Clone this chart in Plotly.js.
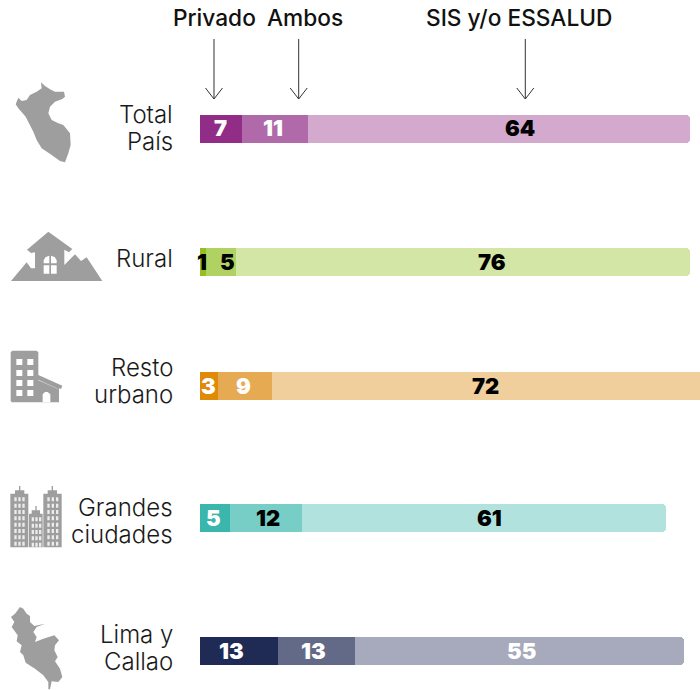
<!DOCTYPE html>
<html><head><meta charset="utf-8">
<script src="https://cdn.plot.ly/plotly-3.0.1.min.js"></script>
<style>html,body{margin:0;padding:0;background:#fff}#c{width:700px;height:690px}
</style>
</head><body><div id="c"></div>
<script>
// ---- data ----
const categories = ["Total País","Rural","Resto urbano","Grandes ciudades","Lima y Callao"];
const privado = [7,1,3,5,13];
const ambos   = [11,5,9,12,13];
const sis     = [64,76,72,61,55];
const seriesNames = ["Privado","Ambos","SIS y/o ESSALUD"];
const categoryLines = [["Total","País"],["Rural"],["Resto","urbano"],["Grandes","ciudades"],["Lima y","Callao"]];

// ---- styles and layout constants ----
const W=700,H=690,X0=200,PXU=5.975;
const rowY=[129,262,386,518,651];
const labelY=[128.5,258,380.5,520.5,647.5];
const barH=28;
const colPrivado=["#912d87","#93bf1f","#e08b07","#3bb6ad","#202b55"];
const colAmbos=["#b06aa9","#b0d262","#e6ab52","#76cec6","#636a88"];
const colSis=["#d3aace","#d4e6a5","#f0cf9c","#b1e2de","#a6aabc"];
const labelPx=[[220,273,520],[202,227,492],[208,243,485],[213,268,490],[232,313,521]];
const labelCol=[["#fff","#fff","#000"],["#000","#000","#000"],["#fff","#fff","#000"],["#fff","#000","#000"],["#fff","#fff","#fff"]];
const FONT="Inter, sans-serif", GREY="#9e9e9e";

const px=x=>x/W, py=y=>1-y/H;
const bar=(name,vals,cols)=>({type:"bar",orientation:"h",name,x:vals,y:rowY,width:barH,
  marker:{color:cols,line:{width:0}},hoverinfo:"skip"});
const data=[bar(seriesNames[0],privado,colPrivado),bar(seriesNames[1],ambos,colAmbos),bar(seriesNames[2],sis,colSis)];

const annotations=[];
const txt=(t,x,y,size,color,anchor,weight)=>annotations.push({text:t,xref:"paper",yref:"paper",x:px(x),y:py(y),
  xanchor:anchor,yanchor:"middle",showarrow:false,align:anchor,font:{family:FONT,size,color,weight:weight||400}});
categoryLines.forEach((ls,i)=>ls.forEach((l,j)=>txt(l,175,labelY[i]+(j-(ls.length-1)/2)*27,24,"#1a1a1a","right",300)));
[privado,ambos,sis].forEach((s,k)=>s.forEach((v,i)=>txt(String(v),labelPx[i][k],rowY[i]-0.5,22,labelCol[i][k],"center",900)));
txt(seriesNames[0],214,18,22.7,"#111","center",500);
txt(seriesNames[1],304.5,18,22.7,"#111","center",500);
txt(seriesNames[2],519,18,22.7,"#111","center",500);

// ---- decoration: arrows and silhouettes in page pixels ----
const shapes=[];
const pathOf=(rings,close=true)=>rings.map(r=>r.map((p,i)=>(i?"L":"M")+px(p[0]).toFixed(5)+" "+py(p[1]).toFixed(5)).join(" ")+(close?" Z":"")).join(" ");
const addPath=(rings,fill)=>shapes.push({type:"path",xref:"paper",yref:"paper",path:pathOf(rings),fillcolor:fill,line:{width:0},layer:"above"});
const zoomed=(pts,ox,oy)=>pts.map(p=>[ox+p[0]/3,oy+p[1]/3]);
const rect=(a,b,c,d)=>[[a,b],[c,b],[c,d],[a,d]];

[214,298.7,525.3].forEach(x=>{
  shapes.push({type:"path",xref:"paper",yref:"paper",path:pathOf([[[x,39],[x,99]],[[x-8.5,88],[x,99],[x+8.5,88]]],false),line:{color:"#333",width:1},layer:"above"});
});
// Peru
addPath([zoomed([[108,22],[120,33],[135,43],[150,50],[177,50],[180,65],[172,72],[150,80],[135,95],[130,115],[140,135],[160,145],[175,150],[195,175],[197,210],[190,235],[180,262],[165,258],[140,240],[110,220],[95,195],[85,170],[62,125],[40,100],[32,88],[40,68],[50,78],[65,75],[75,60],[95,50],[110,40]],5,75)],GREY);
// Rural
addPath([zoomed([[18,168],[65,112],[78,130],[90,130],[90,82],[78,84],[66,74],[130,20],[202,72],[192,82],[178,74],[178,120],[210,88],[228,108],[245,97],[292,168]],5,225)],GREY);
addPath([zoomed([[116,115],[133,115],[133,92],[122,96],[116,106]],5,225),zoomed([[138,115],[155,115],[155,106],[149,96],[138,92]],5,225),zoomed(rect(116,121,133,146),5,225),zoomed(rect(138,121,155,146),5,225)],"#fff");
// Building
addPath([zoomed([[22,17],[95,17],[100,22],[100,90],[172,122],[168,132],[162,130],[162,172],[20,172],[17,167],[17,22]],5,345)],GREY);
const bw=[];[42,75,105,135].forEach(y=>[34,67].forEach(x=>bw.push(zoomed(rect(x,y,x+18,y+18),5,345))));
bw.push(zoomed([[100,106],[160,133],[160,132],[100,104]],5,345));
bw.push(zoomed([[113,172],[113,148],[120,141],[128,141],[136,148],[136,172]],5,345));
addPath(bw,"#fff");
// City
addPath([zoomed(rect(16,35,70,196),5,482),zoomed(rect(30,25,58,35),5,482),zoomed(rect(42,12,46,25),5,482),
  zoomed(rect(115,35,170,196),5,482),zoomed(rect(128,25,156,35),5,482),zoomed(rect(140,12,144,25),5,482),
  zoomed(rect(72,95,113,196),5,482),zoomed(rect(80,85,105,95),5,482),zoomed(rect(91,72,95,85),5,482)],GREY);
const cw=[];
[[28,40,52],[127,140,153]].forEach(cols=>{for(let y=46;y<190;y+=19)cols.forEach(x=>cw.push(zoomed(rect(x,y,x+7,y+12),5,482)));});
for(let y=106;y<190;y+=19)[80,91,102].forEach(x=>cw.push(zoomed(rect(x,y,x+7,y+12),5,482)));
addPath(cw,"#ececec");
// Lima
addPath([zoomed([[45,15],[55,20],[65,35],[75,42],[75,60],[88,72],[120,65],[95,75],[85,90],[95,105],[90,120],[115,110],[148,100],[162,115],[150,130],[148,145],[158,165],[150,178],[165,200],[172,225],[160,240],[140,238],[135,262],[130,262],[130,240],[115,220],[90,200],[62,182],[55,160],[45,150],[50,130],[35,118],[38,100],[20,75],[28,60],[18,45],[30,35]],5,602)],GREY);

const layout={width:W,height:H,margin:{l:0,r:0,t:0,b:0,pad:0},autosize:false,showlegend:false,barmode:"stack",barcornerradius:4,
  paper_bgcolor:"#fff",plot_bgcolor:"#fff",hovermode:false,
  xaxis:{domain:[X0/W,1],range:[0,(W-X0)/PXU],visible:false,fixedrange:true},
  yaxis:{domain:[0,1],range:[H,0],visible:false,fixedrange:true},
  annotations,shapes};
Plotly.newPlot("c",data,layout,{displayModeBar:false,staticPlot:true});
</script></body></html>
